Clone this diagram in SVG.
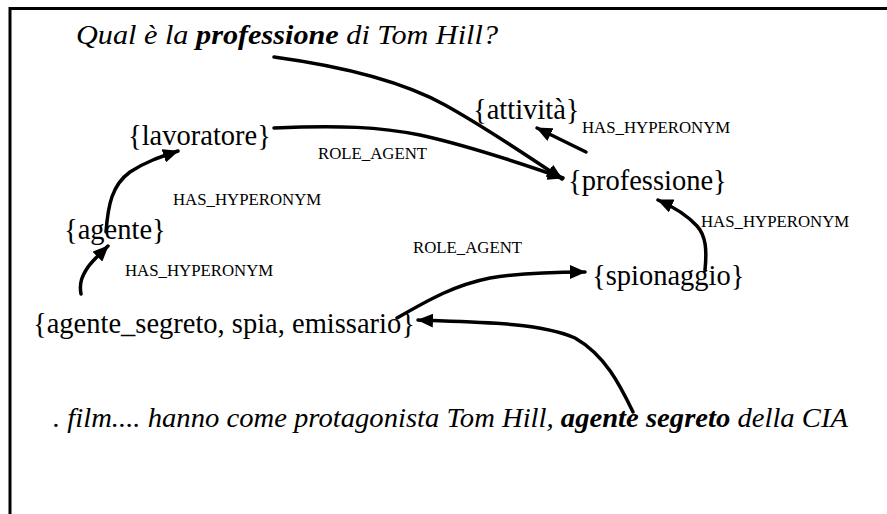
<svg xmlns="http://www.w3.org/2000/svg" width="887" height="514" viewBox="0 0 887 514">
  <defs>
    <marker id="arrow" viewBox="0 0 16 14" refX="15" refY="7" markerWidth="16" markerHeight="14" markerUnits="userSpaceOnUse" orient="auto">
      <path d="M0,0 L16,7 L0,14 Z" fill="#000"/>
    </marker>
  </defs>
  <style>
    .frame { stroke: #000; stroke-width: 3; fill: none; }
    .node { font-family: 'Liberation Serif', 'Times New Roman', serif; font-size: 28.5px; fill: #000; }
    .label { font-family: 'Liberation Serif', 'Times New Roman', serif; font-size: 16.8px; fill: #000; }
    .sentence { font-family: 'Liberation Serif', 'Times New Roman', serif; font-style: italic; fill: #000; }
    .edge { stroke: #000; stroke-width: 3.5; fill: none; stroke-linecap: round; }
    .arrowed { marker-end: url(#arrow); }
  </style>

  <rect width="887" height="514" fill="#fff"/>
  <!-- frame: top and left rules -->
  <path class="frame" d="M10,514 L10,8.5 L887,8.5"/>

  <!-- sentences -->
  <text id="question" class="sentence" x="76" y="44" font-size="28" textLength="422" lengthAdjust="spacingAndGlyphs">Qual è la <tspan font-weight="bold">professione</tspan> di Tom Hill?</text>
  <text id="passage" class="sentence" x="53" y="427" font-size="27" textLength="795" lengthAdjust="spacingAndGlyphs">. film.... hanno come protagonista Tom Hill, <tspan font-weight="bold">agente segreto</tspan> della CIA</text>

  <!-- synsets -->
  <g id="lavoratore"><text class="node" x="128" y="145">{lavoratore}</text></g>
  <g id="attivita"><text class="node" x="473" y="119">{attività}</text></g>
  <g id="professione"><text class="node" x="568" y="190">{professione}</text></g>
  <g id="agente"><text class="node" x="64" y="239">{agente}</text></g>
  <g id="spionaggio"><text class="node" x="592" y="285">{spionaggio}</text></g>
  <g id="agente_segreto"><text class="node" x="33" y="333">{agente_segreto, spia, emissario}</text></g>

  <!-- relation labels -->
  <g id="labels">
    <text class="label" x="318" y="159">ROLE_AGENT</text>
    <text class="label" x="582" y="133">HAS_HYPERONYM</text>
    <text class="label" x="701" y="227">HAS_HYPERONYM</text>
    <text class="label" x="173" y="205">HAS_HYPERONYM</text>
    <text class="label" x="125" y="276">HAS_HYPERONYM</text>
    <text class="label" x="413" y="253">ROLE_AGENT</text>
  </g>

  <!-- connectors -->
  <g id="connectors">
    <path class="edge arrowed" d="M274,57 C340,66 400,80 445,105 C490,130 530,158 562,179"/>
    <path class="edge arrowed" d="M274,128 C340,125 380,127 420,135 C470,146 520,163 563,178"/>
    <path class="edge arrowed" d="M586,152 L537,128"/>
    <path class="edge arrowed" d="M705,270 C707,250 706,236 697,226 C686,214 674,207 658,200"/>
    <path class="edge arrowed" d="M397,318 C430,299 455,285 490,278 C520,273 555,272 585,272"/>
    <path class="edge arrowed" d="M633,412 C620,385 605,355 575,338 C540,322 470,322 418,320"/>
    <path class="edge arrowed" d="M106,232 C108,205 112,185 130,172 C145,162 160,157 178,151"/>
    <path class="edge arrowed" d="M81,294 C79,283 82,276 88,267 C93,260 98,256 108,246"/>
  </g>
</svg>
